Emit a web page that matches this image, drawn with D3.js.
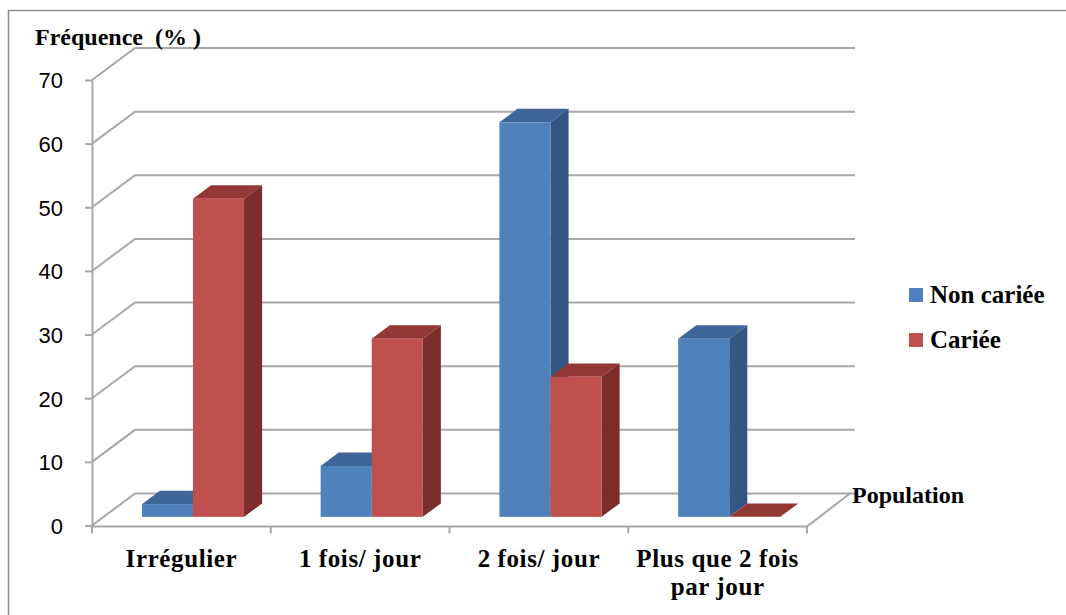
<!DOCTYPE html>
<html>
<head>
<meta charset="utf-8">
<script src="https://cdn.jsdelivr.net/npm/d3@7"></script>
<style>
html,body{margin:0;padding:0;background:#fff;}
svg{display:block;}
</style>
</head>
<body>
<svg id="chart" width="1066" height="615"></svg>
<script>
const categories = [["Irrégulier"], ["1 fois/ jour"], ["2 fois/ jour"], ["Plus que 2 fois", "par jour"]];
const seriesNames = ["Non cariée", "Cariée"];
const nonCariee = [2, 8, 62, 28];
const cariee = [50, 28, 22, 0];
const yTicks = [0, 10, 20, 30, 40, 50, 60, 70];
const yTitle = "Fréquence  (% )";
const xTitle = "Population";

const frontColors = ["#4F81BD", "#C0504D"];
const topColors = ["#3E6699", "#943836"];
const sideColors = ["#345683", "#7B2D2B"];

const svg = d3.select("#chart");
const catKeys = categories.map(c => c.join(" "));
const seriesValues = [nonCariee, cariee];
const serif = "'Liberation Serif', 'Times New Roman', serif";

const x = d3.scaleBand().domain(catKeys).range([92, 807]).paddingInner(0).paddingOuter(0);
const xs = d3.scaleBand().domain(seriesNames).range([0, x.bandwidth()]).paddingInner(0).paddingOuter(0.75);
const y = d3.scaleLinear().domain([0, 70]).range([525.5, 80]);

// depth projection
const DX = 43, DY = -32;
const dep = d => [DX * d, DY * d];
const fOff = dep(0.27), bOff = dep(0.69);

// border
svg.append("path").attr("d", "M8.5,615 L8.5,10.5 L1066,10.5")
  .attr("fill", "none").attr("stroke", "#8c8c8c").attr("stroke-width", 1.5);

const gridColor = "#a8a8a8";
const gGrid = svg.append("g");
yTicks.forEach(t => {
  const yy = y(t);
  gGrid.append("path")
    .attr("d", `M${x.range()[0]},${yy} L${x.range()[0] + DX},${yy + DY} L${x.range()[1] + DX + 5},${yy + DY}`)
    .attr("fill", "none").attr("stroke", gridColor).attr("stroke-width", 2);
});
// floor front edge and right diagonal
gGrid.append("path")
  .attr("d", `M${x.range()[0]},${y(0) + 1} L${x.range()[1]},${y(0) + 1} L${x.range()[1] + DX},${y(0) + DY}`)
  .attr("fill", "none").attr("stroke", gridColor).attr("stroke-width", 2);

// y axis
const yAxis = d3.axisLeft(y).tickValues(yTicks).tickSize(7).tickSizeOuter(0).tickPadding(22).tickFormat(d3.format("d"));
const gy = svg.append("g").attr("transform", `translate(${x.range()[0]},0)`).call(yAxis);
gy.select(".domain").attr("stroke", gridColor).attr("stroke-width", 2);
gy.selectAll(".tick line").attr("stroke", gridColor).attr("stroke-width", 2);
gy.selectAll(".tick text").attr("font-family", "'Liberation Sans', Arial, sans-serif")
  .attr("font-size", 22).attr("fill", "#000").attr("dy", "0.36em");

// x axis ticks
const xTickPos = catKeys.map(k => x(k)).concat([x.range()[1]]);
svg.append("g").selectAll("line").data(xTickPos).join("line")
  .attr("x1", d => d).attr("x2", d => d).attr("y1", y(0) + 1).attr("y2", y(0) + 8)
  .attr("stroke", gridColor).attr("stroke-width", 2);

// category labels
const gx = svg.append("g");
categories.forEach((lines, i) => {
  const cx = x(catKeys[i]) + x.bandwidth() / 2;
  const t = gx.append("text").attr("x", cx).attr("y", 567).attr("text-anchor", "middle")
    .attr("font-family", serif).attr("font-weight", "bold")
    .attr("font-size", 25).attr("letter-spacing", 0.6).attr("fill", "#000");
  lines.forEach((ln, j) => t.append("tspan").attr("x", cx).attr("dy", j === 0 ? 0 : 28).text(ln));
});

// bars
const gBars = svg.append("g");
catKeys.forEach((k, ci) => {
  seriesNames.forEach((s, si) => {
    const v = seriesValues[si][ci];
    const x0 = x(k) + xs(s), x1 = x0 + xs.bandwidth();
    const yt = y(v), yb = y(0);
    const g = gBars.append("g");
    g.append("polygon").attr("points", [
      [x0 + fOff[0], yt + fOff[1]], [x0 + bOff[0], yt + bOff[1]],
      [x1 + bOff[0], yt + bOff[1]], [x1 + fOff[0], yt + fOff[1]]].map(p => p.join(",")).join(" "))
      .attr("fill", topColors[si]);
    g.append("polygon").attr("points", [
      [x1 + fOff[0], yt + fOff[1]], [x1 + bOff[0], yt + bOff[1]],
      [x1 + bOff[0], yb + bOff[1]], [x1 + fOff[0], yb + fOff[1]]].map(p => p.join(",")).join(" "))
      .attr("fill", sideColors[si]);
    g.append("rect").attr("x", x0 + fOff[0]).attr("y", yt + fOff[1])
      .attr("width", xs.bandwidth()).attr("height", Math.max(0, yb - yt))
      .attr("fill", frontColors[si]);
  });
});

// titles
svg.append("text").attr("x", 35).attr("y", 45).text(yTitle)
  .attr("font-family", serif).attr("font-weight", "bold")
  .attr("font-size", 24).attr("fill", "#000").style("white-space", "pre");
svg.append("text").attr("x", 852).attr("y", 503).text(xTitle)
  .attr("font-family", serif).attr("font-weight", "bold")
  .attr("font-size", 24).attr("fill", "#000");

// legend
const lg = svg.append("g");
seriesNames.forEach((s, i) => {
  const yy = 288 + i * 45;
  lg.append("rect").attr("x", 909).attr("y", yy).attr("width", 14).attr("height", 14).attr("fill", frontColors[i]);
  lg.append("text").attr("x", 930).attr("y", yy + 15).text(s)
    .attr("font-family", serif).attr("font-weight", "bold")
    .attr("font-size", 25).attr("fill", "#000");
});
</script>
</body>
</html>
